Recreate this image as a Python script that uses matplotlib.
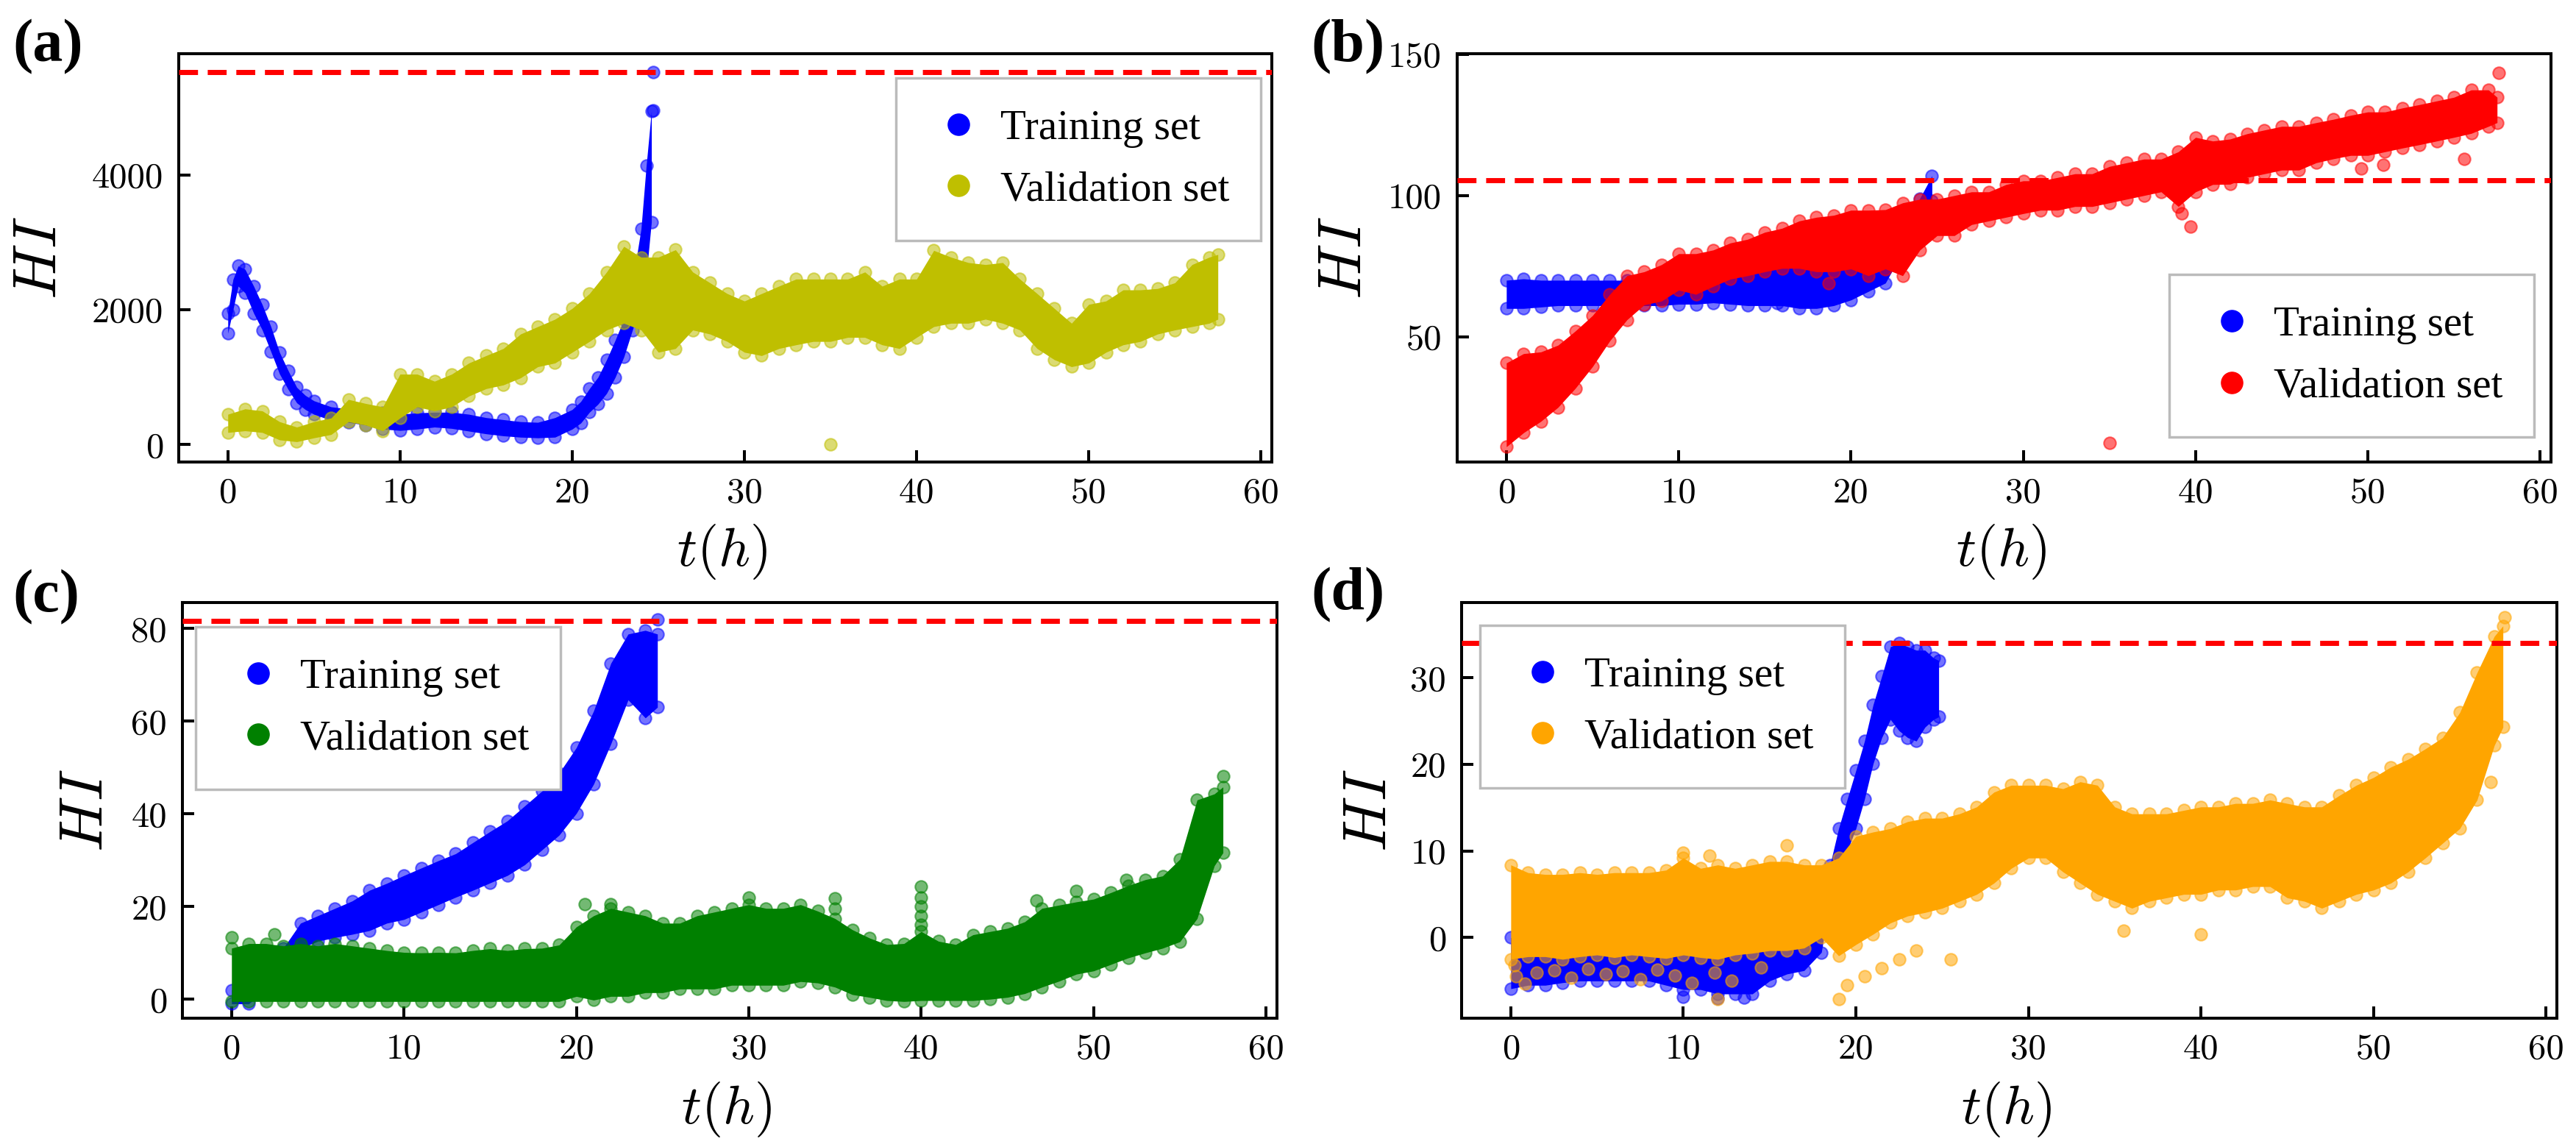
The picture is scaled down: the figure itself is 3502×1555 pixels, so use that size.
import matplotlib
matplotlib.use("Agg")
import matplotlib.pyplot as plt
from matplotlib.lines import Line2D

plt.rcParams['mathtext.fontset'] = 'cm'
plt.rcParams['axes.unicode_minus'] = False

# ---------------- data ----------------
# Panel (a)
a_tr_t = [0, 0.3, 0.6, 1.0, 1.5, 2.0, 2.5, 3.0, 3.5, 4.0, 4.5, 5.0, 6, 7, 8, 9, 10, 11, 12, 13, 14, 15, 16, 17, 18, 19, 20,
          20.5, 21, 21.5, 22, 22.5, 23, 23.5, 24, 24.3, 24.6]
a_tr_lo = [1650, 2000, 2350, 2250, 1950, 1700, 1380, 1050, 820, 620, 520, 450, 360, 330, 290, 230, 210, 230, 260, 240,
           200, 160, 130, 110, 100, 110, 230, 320, 480, 600, 760, 1000, 1300, 1700, 2100, 2500, 3300]
a_tr_hi = [1950, 2450, 2650, 2600, 2350, 2075, 1750, 1370, 1100, 850, 730, 650, 560, 530, 500, 470, 450, 470, 480, 480,
           450, 400, 370, 340, 330, 400, 520, 640, 830, 1000, 1260, 1550, 1860, 2400, 3200, 4135, 4950]
a_tr_out_t = [24.7, 24.7]
a_tr_out_y = [5520, 4960]

val_t = [0, 1, 2, 3, 4, 5, 6, 7, 8, 9, 10, 11, 12, 13, 14, 15, 16, 17, 18, 19, 20, 21, 22, 23, 24, 25, 26, 27, 28, 29,
         30, 31, 32, 33, 34, 35, 36, 37, 38, 39, 40, 41, 42, 43, 44, 45, 46, 47, 48, 49, 50, 51, 52, 53, 54, 55, 56,
         57, 57.5]
a_va_lo = [180, 205, 180, 70, 43, 100, 150, 340, 290, 205, 395, 560, 500, 560, 720, 830, 885, 990, 1155, 1210, 1370,
           1530, 1700, 1800, 1700, 1370, 1425, 1700, 1640, 1530, 1370, 1320, 1425, 1480, 1530, 1530, 1590, 1590, 1480,
           1425, 1590, 1750, 1800, 1800, 1860, 1800, 1700, 1425, 1260, 1155, 1210, 1370, 1480, 1530, 1640, 1700, 1750,
           1800, 1860]
a_va_hi = [450, 530, 500, 340, 260, 340, 395, 670, 610, 560, 1045, 1045, 940, 1045, 1210, 1320, 1425, 1640, 1750,
           1860, 2020, 2240, 2560, 2940, 2780, 2780, 2890, 2560, 2400, 2240, 2130, 2240, 2350, 2455, 2455, 2455, 2455,
           2560, 2350, 2455, 2455, 2880, 2780, 2700, 2670, 2700, 2455, 2240, 2020, 1800, 2080, 2130, 2295, 2295, 2315,
           2400, 2670, 2780, 2820]
a_va_out_t = [35.0]
a_va_out_y = [0]

# Panel (b)
b_tr_t = [0, 1, 2, 3, 4, 5, 6, 7, 8, 9, 10, 11, 12, 13, 14, 15, 16, 17, 18, 19, 20, 21, 22, 23, 24, 24.7]
b_tr_lo = [60, 60, 60.5, 61, 61, 61, 61, 61, 61, 61, 61.5, 61.5, 62, 61.5, 61, 61, 61, 60, 60, 61, 63, 66, 69, 80, 91, 98]
b_tr_hi = [70, 70.5, 70, 70, 70, 70, 70, 70, 70, 70, 70, 70, 70.5, 71, 72, 74, 75, 75.5, 75.5, 75.5, 75, 75.5, 78, 88,
           99, 107]
b_tr_out_t = [15.7]
b_tr_out_y = [62]
b_va_lo = [11, 16, 20, 25, 31.7, 39.4, 48.5, 56, 61.3, 62.6, 66.5, 65, 67.8, 70.4, 71.6, 73, 74.2, 74.2, 73, 73, 74,
           71.6, 74, 71.6, 80.7, 85.8, 85.8, 89.7, 91, 92.3, 93.6, 94.8, 94.8, 96.1, 96.1, 97.4, 98.7, 100, 101.3, 96.1,
           101.3, 103.9, 104, 106.4, 107.7, 109, 109, 111.6, 113, 114.2, 114.2, 115.5, 116.8, 118, 119.3, 120.6, 122,
           124.5, 125.8]
b_va_hi = [40.7, 44, 44.6, 47, 52, 57.5, 65, 71.6, 73, 75.5, 79.4, 79.4, 80.7, 83.2, 84.5, 87, 88.4, 91, 92.3, 93, 94.8,
           94.8, 95, 97.4, 98.7, 98.7, 100, 101.3, 101.3, 103.9, 105.2, 105.2, 106.4, 107.7, 107.7, 110.3, 111.6, 112.9,
           112.9, 115.5, 120.6, 119.3, 120, 121.9, 123.2, 124.5, 124.5, 125.8, 127, 128.4, 129.6, 129.6, 131, 132.2,
           133.5, 134.8, 137.4, 137.4, 134.8]
b_va_out_t = [35.0, 57.6, 39.7, 55.6, 50.9, 49.6, 18.7, 39.2]
b_va_out_y = [12.4, 143.4, 89, 113, 111, 109.7, 69, 93.6]

# Panel (c)
c_tr_t = [0, 1, 2, 3, 4, 5, 6, 7, 8, 9, 10, 11, 12, 13, 14, 15, 16, 17, 18, 19, 20, 21, 22, 23, 24, 24.7]
c_tr_lo = [-1, -1, 2, 5, 10.9, 12.5, 13.3, 14, 14.8, 16.4, 17.2, 18.8, 20.4, 22, 23.5, 25.1, 26.7, 29, 32.2, 35.4,
           40.1, 46.4, 55.1, 64.6, 60.7, 63]
c_tr_hi = [2, 4, 8, 11, 16.4, 18, 19.6, 21.2, 23.5, 25, 26.7, 28.3, 29.9, 31.4, 33.8, 36.2, 38.5, 41.7, 44.9, 48.8,
           54.3, 62.2, 72.5, 78.8, 79.6, 78.8]
c_tr_out_t = [24.7]
c_tr_out_y = [82]
c_va_lo = [-0.5, -0.5, -0.5, -0.5, -0.5, -0.5, -0.5, -0.5, -0.5, -0.5, -0.5, -0.5, -0.5, -0.5, -0.5, -0.5, -0.5, -0.5,
           -0.5, -0.5, 0.6, -0.2, 0.6, 0.6, 1.4, 1.4, 2.2, 2.2, 2.2, 3, 3, 3, 3, 3.8, 3.5, 2.6, 1.0, 0.4, -0.3, -0.5,
           -0.3, -0.3, -0.3, -0.3, 0, 0.4, 1.2, 2.6, 3.9, 5.4, 6.1, 7.5, 8.9, 10, 11, 12.4, 17.4, 28.8, 31.6]
c_va_hi = [11, 12, 12, 11.5, 12, 11.5, 12, 11.5, 11, 10.5, 10.1, 10, 10.1, 10, 10.5, 10.9, 10.5, 10.9, 11, 11.7, 15.6,
           18, 19.6, 18.8, 18, 16.4, 16.4, 18, 18.8, 19.6, 20.4, 19.6, 19.6, 20.4, 19, 17.4, 15, 13.2, 11.8, 12,
           14.6, 12.5, 11.8, 13.9, 14.6, 15.3, 16.7, 19.6, 20.3, 21, 21.6, 23, 24.5, 25.8, 26.6, 30.2, 43, 44.3, 45.8]
c_va_out_t = [0, 40, 40, 40, 40, 40, 35, 35, 20.5, 22, 30, 46.7, 49, 51.9, 57.5, 2.5]
c_va_out_y = [13.3, 24.3, 22, 20, 18, 16, 21.7, 19.5, 20.5, 20.5, 22, 21.3, 23.4, 25.8, 48.1, 14]

# Panel (d)
d_tr_t = [0, 1, 2, 3, 4, 5, 6, 7, 8, 9, 10, 11, 12, 13, 14, 15, 16, 17, 18, 18.5, 19, 19.5, 20, 20.5, 21, 21.5, 22,
          22.5, 23, 23.5, 24, 24.5, 24.8]
d_tr_lo = [-5.9, -5.5, -5.5, -5.2, -5, -5, -5, -5, -5, -5.5, -6, -6, -6.5, -6.5, -6.5, -5, -4.2, -3.8, -1.7, 4.2, 7.1,
           10, 12.6, 16, 20.1, 23.1, 25.2, 23.9, 23.1, 22.7, 24.3, 25.2, 25.5]
d_tr_hi = [0, 0, 0, 0, 0, 0, 0, 0, 0, 0, 0, 0, 0, 0.5, 1, 1, 1, 1, 1.7, 8.4, 12.6, 16, 19.3, 22.7, 26.9, 30.2, 33.6, 34,
           33.6, 33.2, 33.2, 32.3, 32]
d_tr_out_t = [13.5, 12.0, 10.0]
d_tr_out_y = [-6.9, -7.0, -6.8]
d_va_lo = [-2.5, -2.2, -2.2, -2.5, -2.2, -2.0, -2.3, -2.0, -2.2, -2.4, -2.0, -2.3, -2.5, -2.0, -1.8, -1.5, -1.5, -1.2,
           0, -2.1, -0.8, 0.4, 1.7, 2.5, 2.9, 3.4, 4.2, 5, 6.3, 8, 9.2, 9.2, 7.6, 6.3, 5, 4.2, 3.4, 4.2, 4.6, 5, 5, 5.5,
           5.5, 5.9, 5.9, 4.6, 4.2, 3.4, 4.2, 5, 5.5, 6.3, 7.6, 9.2, 10.9, 12.6, 15.9, 22.2, 24.3]
d_va_hi = [8.4, 7.5, 7.3, 7.3, 7.5, 7.3, 7.5, 7.5, 7.5, 7.8, 9.2, 8, 8.4, 8, 8.4, 8.8, 8.8, 8.4, 8.4, 9.2, 11.7, 12.2,
           12.6, 13.4, 13.8, 13.8, 14.3, 15.1, 16.8, 17.6, 17.6, 17.6, 17.2, 18, 17.6, 15.1, 14.3, 14.3, 14.3, 14.7,
           15.1, 15.1, 15.5, 15.5, 15.9, 15.5, 15.1, 15.1, 16.4, 17.6, 18.5, 19.7, 20.6, 21.8, 23.1, 26, 30.6, 34.8, 36]
d_va_out_t = [19, 12, 40, 35.5, 25.5, 20.5, 57.6, 56.8, 16, 10, 11.5, 55.5, 21.5, 22.5, 23.5, 19.5,
              0.3, 1.5, 2.5, 3.5, 4.5, 5.5, 6.5, 7.5, 8.5, 9.5, 10.5, 11.8, 12.8, 14.5, 0.2, 0.8]
d_va_out_y = [-7.1, -7.1, 0.4, 0.8, -2.5, -4.5, 37, 18, 10.7, 9.8, 9.5, 24.6, -3.5, -2.5, -1.5, -5.5,
              -4.5, -4.0, -3.8, -4.6, -3.6, -4.2, -3.9, -4.8, -3.7, -4.4, -5.2, -4.0, -5.0, -3.4, -3.2, -5.3]

thresholds = [5520, 105.3, 81.6, 34.0]
panel_labels = ['(a)', '(b)', '(c)', '(d)']
val_colors = ['y', 'r', 'g', 'orange']
train_color = 'b'
x_ticks = [0, 10, 20, 30, 40, 50, 60]
y_ticks = [[0, 2000, 4000], [50, 100, 150], [0, 20, 40, 60, 80], [0, 10, 20, 30]]
y_lims = [(-259, 5797), (5.6, 150.2), (-4.1, 85.6), (-9.3, 38.7)]
legend_names = ['Training set', 'Validation set']

panels = [
    (a_tr_t, a_tr_lo, a_tr_hi, a_tr_out_t, a_tr_out_y, a_va_lo, a_va_hi, a_va_out_t, a_va_out_y),
    (b_tr_t, b_tr_lo, b_tr_hi, b_tr_out_t, b_tr_out_y, b_va_lo, b_va_hi, b_va_out_t, b_va_out_y),
    (c_tr_t, c_tr_lo, c_tr_hi, c_tr_out_t, c_tr_out_y, c_va_lo, c_va_hi, c_va_out_t, c_va_out_y),
    (d_tr_t, d_tr_lo, d_tr_hi, d_tr_out_t, d_tr_out_y, d_va_lo, d_va_hi, d_va_out_t, d_va_out_y),
]

# ---------------- layout ----------------
positions = [[0.0694, 0.5961, 0.4243, 0.3569],
             [0.5657, 0.5961, 0.4246, 0.3569],
             [0.0708, 0.1100, 0.4249, 0.3633],
             [0.5674, 0.1100, 0.4252, 0.3633]]
ylabel_x = [-0.101, -0.0767, -0.0618, -0.0578]
label_pos = [(0.0051, 0.9588), (0.5091, 0.9588), (0.0049, 0.4778), (0.5089, 0.4797)]
legend_loc = ['upper right', 'lower right', 'upper left', 'upper left']
legend_anchor = [(0.990, 0.9405), (0.9845, 0.061), (0.012, 0.9416), (0.0168, 0.945)]

fig = plt.figure(figsize=(35.02, 15.55), dpi=100)

def band(ax, t, lo, hi, color, z):
    ax.fill_between(t, lo, hi, color=color, lw=0, alpha=1.0, zorder=z)
    for arr in (lo, hi):
        ax.scatter(t, arr, s=140, color=color, alpha=0.55, edgecolors=color, linewidths=1.5, zorder=z + 0.1)

for i, (pos, data) in enumerate(zip(positions, panels)):
    tr_t, tr_lo, tr_hi, tr_ot, tr_oy, va_lo, va_hi, va_ot, va_oy = data
    ax = fig.add_axes(pos)
    vc = val_colors[i]
    band(ax, tr_t, tr_lo, tr_hi, train_color, 2)
    ax.scatter(tr_ot, tr_oy, s=140, color=train_color, alpha=0.55, edgecolors=train_color, linewidths=1.5, zorder=2.2)
    band(ax, val_t, va_lo, va_hi, vc, 3)
    ax.scatter(va_ot, va_oy, s=140, color=vc, alpha=0.55, edgecolors=vc, linewidths=1.5, zorder=3.2)
    ax.axhline(thresholds[i], color='red', ls=(0, (3.7, 1.9)), lw=5, zorder=4)

    ax.set_xlim(-2.85, 60.63)
    ax.set_ylim(*y_lims[i])
    ax.set_xticks(x_ticks)
    ax.set_yticks(y_ticks[i])
    ax.tick_params(direction='in', length=11.5, width=2.9, top=False, right=False, labelsize=35, pad=15)
    for lab in ax.get_xticklabels() + ax.get_yticklabels():
        lab.set_fontfamily('cmr10')
    for sp in ax.spines.values():
        sp.set_linewidth(2.9)
        sp.set_color('black')

    ax.set_ylabel(r'$HI$', fontsize=60)
    ax.yaxis.set_label_coords(ylabel_x[i], 0.5)
    ax.set_xlabel(r'$t(h)$', fontsize=54)
    ax.xaxis.set_label_coords(0.497, -0.148)

    handles = [Line2D([], [], ls='', marker='o', markersize=21, color=train_color),
               Line2D([], [], ls='', marker='o', markersize=21, color=vc)]
    leg = ax.legend(handles, legend_names, loc=legend_loc[i], bbox_to_anchor=legend_anchor[i],
                    borderaxespad=0, prop={'family': 'Liberation Serif', 'size': 41},
                    frameon=True, fancybox=False, framealpha=1, edgecolor='#bbbbbb',
                    borderpad=0.75, handlelength=1.5, handletextpad=0.25, labelspacing=0.55)
    leg.get_frame().set_linewidth(2.5)
    leg.set_zorder(5)

    fig.text(label_pos[i][0], label_pos[i][1], panel_labels[i], fontsize=59, fontweight='bold',
             family='Liberation Serif', ha='left', va='center')

fig.savefig('out.png', dpi=100)
